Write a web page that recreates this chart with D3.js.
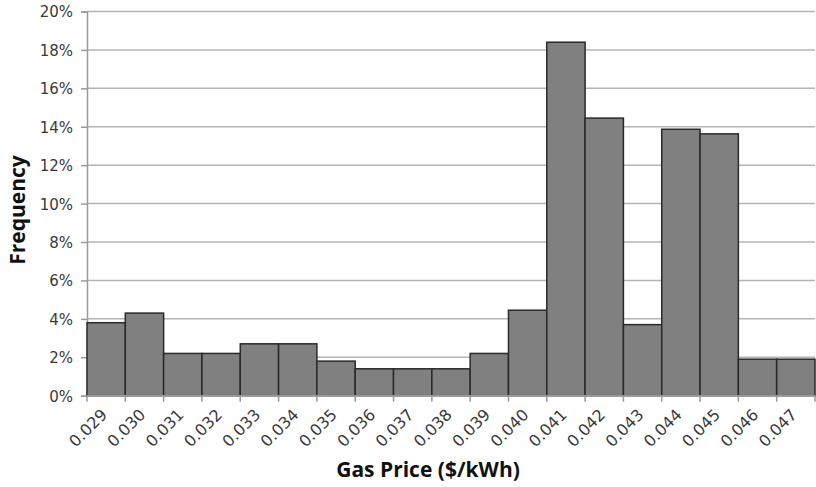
<!DOCTYPE html>
<html><head><meta charset="utf-8">
<script src="https://cdn.jsdelivr.net/npm/d3@7"></script>
<style>body{margin:0;background:#fff;} text{font-family:"Open Sans",sans-serif;}</style>
</head><body>
<svg id="chart" width="816" height="487"></svg>
<script>
const categories = ["0.029","0.030","0.031","0.032","0.033","0.034","0.035","0.036","0.037","0.038","0.039","0.040","0.041","0.042","0.043","0.044","0.045","0.046","0.047"];
const frequency = [3.8,4.3,2.2,2.2,2.7,2.7,1.8,1.4,1.4,1.4,2.2,4.45,18.4,14.45,3.7,13.87,13.63,1.9,1.9];
const yTicks = [0,2,4,6,8,10,12,14,16,18,20];

(function(){
const svg = d3.select("#chart");
const mLeft = 87, mRight = 815, mTop = 11.5, mBottom = 395.7;
const x = d3.scaleBand().domain(categories).range([mLeft, mRight]).padding(0);
const y = d3.scaleLinear().domain([0, 20]).range([mBottom, mTop]);
const tickFont = "'DejaVu Sans',sans-serif";

// gridlines
svg.append("g").selectAll("line").data(yTicks.filter(d => d > 0)).join("line")
  .attr("x1", mLeft).attr("x2", mRight)
  .attr("y1", d => y(d)).attr("y2", d => y(d))
  .attr("stroke", "#b4b4b4").attr("stroke-width", 1.5);

// y axis
const yAxis = d3.axisLeft(y).tickValues(yTicks).tickSize(6).tickFormat(d => d + "%");
const gy = svg.append("g").attr("transform", `translate(${mLeft},0)`).call(yAxis);
gy.attr("font-size", null).attr("font-family", null);
gy.select(".domain").attr("stroke", "#9a9a9a").attr("stroke-width", 1.5);
gy.selectAll(".tick line").attr("stroke", "#9a9a9a").attr("stroke-width", 1.5);
gy.selectAll(".tick text").attr("x", -14).attr("dy", "0.36em")
  .style("font-size", "15px").style("font-family", tickFont).attr("fill", "#3a3a3a");

// bars
svg.append("g").selectAll("rect").data(frequency).join("rect")
  .attr("x", (d, i) => x(categories[i]))
  .attr("y", d => y(d))
  .attr("width", x.bandwidth())
  .attr("height", d => mBottom - y(d))
  .attr("fill", "#808080").attr("stroke", "#2a2a2a").attr("stroke-width", 1.5);

// x axis line and ticks at band edges
svg.append("line").attr("x1", mLeft).attr("x2", mRight).attr("y1", mBottom).attr("y2", mBottom)
  .attr("stroke", "#9a9a9a").attr("stroke-width", 1.5);
const edges = categories.map(c => x(c)).concat([x(categories[categories.length-1]) + x.bandwidth()]);
svg.append("g").selectAll("line").data(edges).join("line")
  .attr("x1", d => d).attr("x2", d => d).attr("y1", mBottom).attr("y2", mBottom + 6)
  .attr("stroke", "#9a9a9a").attr("stroke-width", 1.5);

// x labels
svg.append("g").selectAll("text").data(categories).join("text")
  .attr("transform", d => `translate(${x(d) + x.bandwidth()/2 + 2},${mBottom + 20}) rotate(-45)`)
  .attr("text-anchor", "end").style("font-size", "16px").style("font-family", tickFont).attr("fill", "#3a3a3a")
  .text(d => d);

// axis titles
svg.append("text").attr("x", 428).attr("y", 477).attr("text-anchor", "middle")
  .style("font-size", "21px").attr("font-weight", "bold").attr("fill", "#111").text("Gas Price ($/kWh)");
svg.append("text").attr("transform", "translate(25,210) rotate(-90)").attr("text-anchor", "middle")
  .style("font-size", "21px").attr("font-weight", "bold").attr("fill", "#111").text("Frequency");
})();
</script>
</body></html>
